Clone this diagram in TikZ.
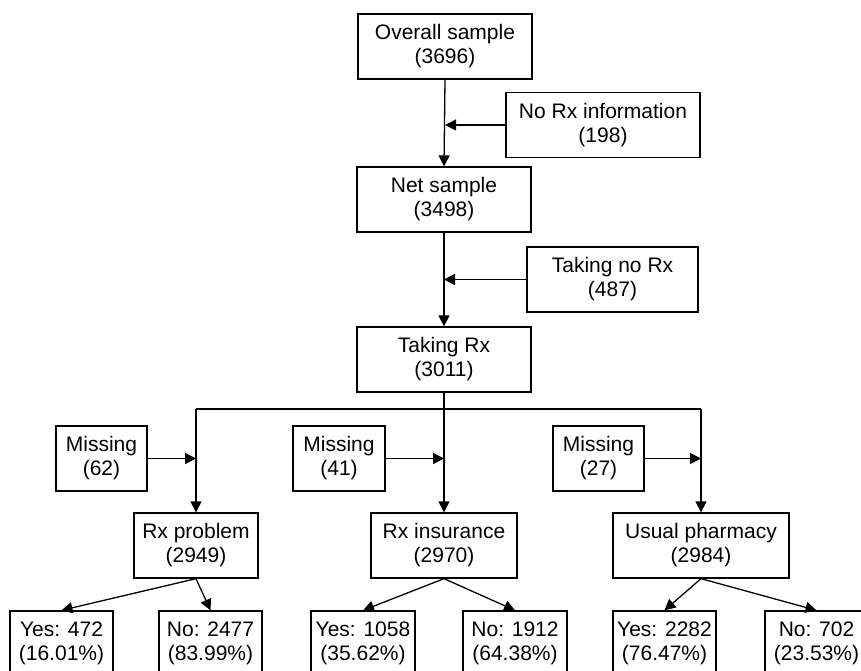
\documentclass[tikz,border=0pt]{standalone}
\usepackage{fontspec}
\setmainfont{Liberation Sans}
\usetikzlibrary{arrows.meta}
\tikzset{
    caja/.style={draw, line width=1.3pt, rectangle, align=center, inner sep=0pt,
        minimum height=65pt, font=\fontsize{21}{24}\selectfont},
    flecha/.style={line width=1.3pt, -{Triangle[length=11pt,width=11pt]}},
    linea/.style={line width=1.3pt}
}
\begin{document}
\begin{tikzpicture}[x=1pt,y=-1pt]
        \useasboundingbox (0,0) rectangle (861,671);
        \clip (0,0) rectangle (861,671);
        %Tronco principal
        \node[caja, minimum width=174pt] (overall) at (445,46.5) {Overall sample\\(3696)};
        \node[caja, minimum width=194pt] (norx) at (603,125) {No Rx information\\(198)};
        \node[caja, minimum width=174pt] (net) at (444,199.5) {Net sample\\(3498)};
        \node[caja, minimum width=171pt] (takingno) at (612.5,279.5) {Taking no Rx\\(487)};
        \node[caja, minimum width=174pt] (taking) at (444,359.5) {Taking Rx\\(3011)};
        \draw[flecha] (overall.south) -- (net.north);
        \draw[flecha] (norx.west) -- (norx.west -| overall.south);
        \draw[flecha] (net.south) -- (taking.north);
        \draw[flecha] (takingno.west) -- (takingno.west -| net.south);
        %Ramas
        \node[caja, minimum width=91pt] (miss1) at (101.5,458.5) {Missing\\(62)};
        \node[caja, minimum width=92pt] (miss2) at (339,458.5) {Missing\\(41)};
        \node[caja, minimum width=91pt] (miss3) at (598.5,458.5) {Missing\\(27)};
        \node[caja, minimum width=124pt] (prob) at (196,545.5) {Rx problem\\(2949)};
        \node[caja, minimum width=146pt] (ins) at (444,545.5) {Rx insurance\\(2970)};
        \node[caja, minimum width=176pt] (pharm) at (701,545.5) {Usual pharmacy\\(2984)};
        \coordinate (br) at (444,409);
        \draw[linea] (prob.north |- br) -- (pharm.north |- br);
        \draw[flecha] (taking.south) -- (ins.north);
        \foreach \n in {prob, pharm}
            \draw[flecha] (\n.north |- br) -- (\n.north);
        \foreach \m/\n in {miss1/prob, miss2/ins, miss3/pharm}
            \draw[flecha] (\m.east) -- (\m.east -| \n.north);
        %Resultados
        \node[caja, minimum width=103pt] (yes1) at (61.5,643.5) {Yes: 472\\(16.01\%)};
        \node[caja, minimum width=103pt] (no1) at (210.5,643.5) {No: 2477\\(83.99\%)};
        \node[caja, minimum width=104pt] (yes2) at (363,643.5) {Yes: 1058\\(35.62\%)};
        \node[caja, minimum width=104pt] (no2) at (515,643.5) {No: 1912\\(64.38\%)};
        \node[caja, minimum width=103pt] (yes3) at (664.5,643.5) {Yes: 2282\\(76.47\%)};
        \node[caja, minimum width=103pt] (no3) at (816.5,643.5) {No: 702\\(23.53\%)};
        \foreach \p/\a/\b in {prob/yes1/no1, ins/yes2/no2, pharm/yes3/no3}
        {
            \draw[flecha] (\p.south) -- (\a.north);
            \draw[flecha] (\p.south) -- (\b.north);
        }
    \end{tikzpicture}
\end{document}
